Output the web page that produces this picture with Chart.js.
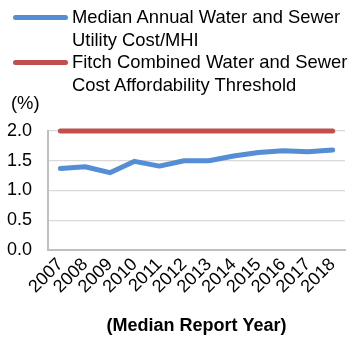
<!DOCTYPE html>
<html>
<head>
<meta charset="utf-8">
<script src="https://cdn.jsdelivr.net/npm/chart.js@4/dist/chart.umd.min.js"></script>
<style>
  body { margin: 0; background: #fff; font-family: "Liberation Sans", Arial, sans-serif; }
  #wrap { position: relative; width: 354px; height: 339px; }
  #chart { position: absolute; left: 0; top: 0; }
  #legend { position: absolute; left: 13px; top: 6px; width: 340px; }
  .item { display: flex; align-items: flex-start; }
  .swatch { width: 55px; height: 5px; border-radius: 3px; margin-top: 8.5px; margin-right: 4px; flex: none; }
  .label { font-size: 18.4px; line-height: 22.5px; color: #000; width: 278px; }
  #unit { position: absolute; left: 11px; top: 92px; font-size: 18.4px; line-height: 22.5px; color: #000; }
</style>
</head>
<body>
<div id="wrap">
  <canvas id="chart" width="354" height="339"></canvas>
  <div id="legend"></div>
  <div id="unit">(%)</div>
</div>
<script>
// Chart data
const years = ['2007', '2008', '2009', '2010', '2011', '2012', '2013', '2014', '2015', '2016', '2017', '2018'];
const medianCost = [1.37, 1.40, 1.30, 1.49, 1.41, 1.50, 1.50, 1.58, 1.64, 1.67, 1.65, 1.68];
const threshold = [2.0, 2.0, 2.0, 2.0, 2.0, 2.0, 2.0, 2.0, 2.0, 2.0, 2.0, 2.0];
const yTicks = [0, 0.5, 1.0, 1.5, 2.0];

const seriesNames = [
  'Median Annual Water and Sewer Utility Cost/MHI',
  'Fitch Combined Water and Sewer Cost Affordability Threshold'
];
const seriesColors = ['#558ED5', '#C0504D'];

const FONT = '"Liberation Sans", Arial, sans-serif';

// Build the legend as html so the long labels can wrap
function buildLegend(chart) {
  const box = document.getElementById('legend');
  let html = '';
  chart.data.datasets.forEach(ds => {
    html += `
      <div class="item">
        <span class="swatch" style="background:${ds.borderColor}"></span>
        <span class="label">${ds.label}</span>
      </div>`;
  });
  box.innerHTML = html;
}

const ctx = document.getElementById('chart').getContext('2d');

const chart = new Chart(ctx, {
  type: 'line',
  data: {
    labels: years,
    datasets: [
      {
        label: seriesNames[0],
        data: medianCost,
        borderColor: seriesColors[0],
        borderWidth: 5,
        borderCapStyle: 'round',
        borderJoinStyle: 'round',
        pointRadius: 0,
        tension: 0,
        clip: false
      },
      {
        label: seriesNames[1],
        data: threshold,
        borderColor: seriesColors[1],
        borderWidth: 5,
        borderCapStyle: 'round',
        borderJoinStyle: 'round',
        pointRadius: 0,
        tension: 0,
        clip: false
      }
    ]
  },
  options: {
    responsive: false,
    animation: false,
    layout: {
      padding: { left: 0, right: 9, top: 131, bottom: 0 }
    },
    plugins: {
      legend: { display: false },
      tooltip: { enabled: false }
    },
    scales: {
      x: {
        offset: true,
        grid: { display: false, drawTicks: false },
        border: { display: true, color: '#BFBFBF', width: 2 },
        ticks: {
          autoSkip: false,
          maxRotation: 45,
          minRotation: 45,
          padding: 4,
          color: '#000',
          font: { family: FONT, size: 18 }
        },
        title: {
          display: true,
          text: '(Median Report Year)',
          color: '#000',
          font: { family: FONT, size: 18, weight: 'bold' },
          padding: { top: 0, bottom: 2 }
        },
        afterFit: scale => { scale.height = 89; }
      },
      y: {
        min: 0,
        max: 2,
        afterBuildTicks: scale => { scale.ticks = yTicks.map(v => ({ value: v })); },
        grid: { color: '#D9D9D9', lineWidth: 1.3, drawTicks: false },
        border: { display: true, color: '#BFBFBF', width: 2 },
        ticks: {
          padding: 16,
          color: '#000',
          font: { family: FONT, size: 18 },
          callback: v => Number(v).toFixed(1)
        },
        afterFit: scale => { scale.width = 48; }
      }
    }
  }
});

buildLegend(chart);
</script>
</body>
</html>
